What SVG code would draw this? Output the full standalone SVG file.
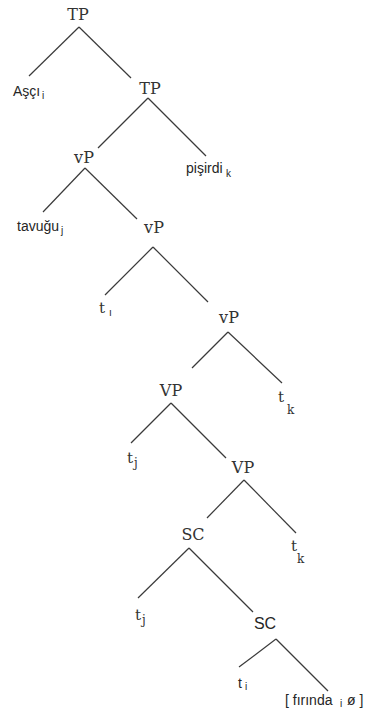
<svg xmlns="http://www.w3.org/2000/svg" width="365" height="720" viewBox="0 0 365 720">
  <style>
    .edge { stroke: #3a3a3a; stroke-width: 1.2; fill: none; }
    .cat { font-family: "DejaVu Serif", "Liberation Serif", serif; font-size: 16px; fill: #333333; text-anchor: middle; }
    .trace { font-family: "DejaVu Serif", "Liberation Serif", serif; font-size: 15px; fill: #333333; }
    .word { font-family: "Liberation Sans", Arial, sans-serif; font-size: 14px; fill: #262626; }
    .sub { font-family: "Liberation Sans", Arial, sans-serif; font-size: 10px; fill: #262626; }
    .tsub { font-family: "DejaVu Serif", "Liberation Serif", serif; font-size: 12px; fill: #333333; }
    .scs { font-family: "Liberation Sans", Arial, sans-serif; font-size: 16px; fill: #262626; text-anchor: middle; }
  </style>
  <rect width="365" height="720" fill="#ffffff"/>

  <!-- branches -->
  <g id="edges">
    <line class="edge" x1="79" y1="27" x2="29" y2="76"/>
    <line class="edge" x1="79" y1="27" x2="131" y2="78"/>
    <line class="edge" x1="148" y1="98" x2="98" y2="148"/>
    <line class="edge" x1="148" y1="98" x2="206" y2="156"/>
    <line class="edge" x1="85" y1="168" x2="43" y2="212"/>
    <line class="edge" x1="85" y1="168" x2="137" y2="219"/>
    <line class="edge" x1="153" y1="247" x2="105" y2="295"/>
    <line class="edge" x1="153" y1="247" x2="208" y2="302"/>
    <line class="edge" x1="228" y1="332" x2="192" y2="368"/>
    <line class="edge" x1="228" y1="332" x2="282" y2="383"/>
    <line class="edge" x1="171" y1="403" x2="131" y2="443"/>
    <line class="edge" x1="171" y1="403" x2="226" y2="458"/>
    <line class="edge" x1="244" y1="480" x2="207" y2="518"/>
    <line class="edge" x1="244" y1="480" x2="296" y2="533"/>
    <line class="edge" x1="189" y1="548" x2="138" y2="598"/>
    <line class="edge" x1="189" y1="548" x2="253" y2="612"/>
    <line class="edge" x1="276" y1="639" x2="239" y2="667"/>
    <line class="edge" x1="276" y1="639" x2="328" y2="691"/>
  </g>

  <!-- nodes -->
  <g id="tp-root"><text class="cat" x="78" y="20">TP</text></g>
  <g id="asci"><text class="word" x="13" y="96">Aşçı</text><text class="sub" x="42" y="99">i</text></g>
  <g id="tp"><text class="cat" x="150" y="94">TP</text></g>
  <g id="vp-little-1"><text class="cat" x="84" y="163">vP</text></g>
  <g id="pisirdi"><text class="word" x="186" y="173">pişirdi</text><text class="sub" x="226" y="177">k</text></g>
  <g id="tavugu"><text class="word" x="17" y="231">tavuğu</text><text class="sub" x="61" y="234">j</text></g>
  <g id="vp-little-2"><text class="cat" x="154" y="233">vP</text></g>
  <g id="trace-i-1"><text class="trace" x="99" y="313">t</text><text class="sub" x="109" y="316">ı</text></g>
  <g id="vp-little-3"><text class="cat" x="229" y="323">vP</text></g>
  <g id="vp-big-1"><text class="cat" x="171" y="396">VP</text></g>
  <g id="trace-k-1"><text class="trace" x="278" y="402">t</text><text class="tsub" x="287" y="414">k</text></g>
  <g id="trace-j-1"><text class="trace" x="127" y="463">t</text><text class="tsub" x="134" y="467">j</text></g>
  <g id="vp-big-2"><text class="cat" x="243" y="473">VP</text></g>
  <g id="sc-1"><text class="cat" x="193" y="540">SC</text></g>
  <g id="trace-k-2"><text class="trace" x="291" y="551">t</text><text class="tsub" x="297" y="563">k</text></g>
  <g id="trace-j-2"><text class="trace" x="135" y="620">t</text><text class="tsub" x="142" y="624">j</text></g>
  <g id="sc-2"><text class="scs" x="265" y="629">SC</text></g>
  <g id="trace-i-2"><text class="word" x="238" y="688">t</text><text class="sub" x="245" y="690">i</text></g>
  <g id="firinda"><text class="word" x="285" y="705">[ fırında</text><text class="sub" x="340" y="707">i</text><text class="word" x="347" y="705">ø ]</text></g>
</svg>
